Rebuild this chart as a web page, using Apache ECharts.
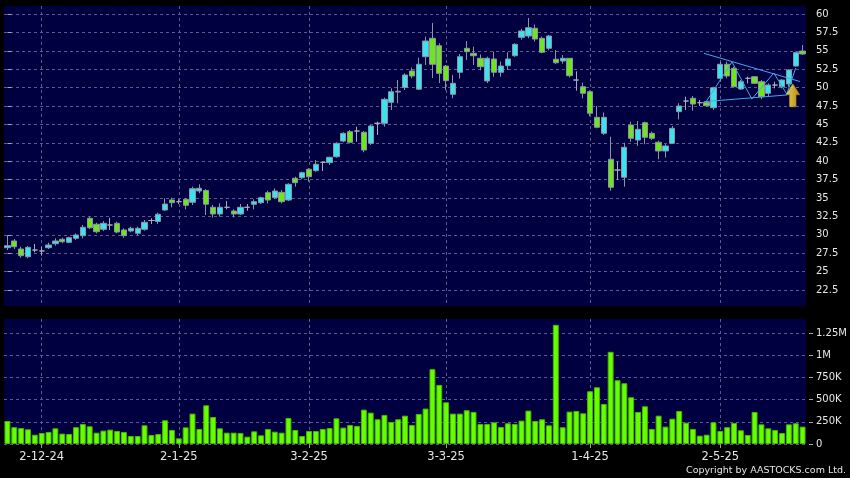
<!DOCTYPE html>
<html><head><meta charset="utf-8">
<script src="https://cdn.jsdelivr.net/npm/echarts@6/dist/echarts.min.js"></script>
<style>html,body{margin:0;padding:0;background:#000;}#c{width:850px;height:478px;}</style>
</head><body><div id="c"></div>
<script>
const dates = [
'2024-11-25','2024-11-26','2024-11-27','2024-11-28','2024-11-29',
'2024-12-02','2024-12-03','2024-12-04','2024-12-05','2024-12-06','2024-12-09','2024-12-10','2024-12-11','2024-12-12','2024-12-13',
'2024-12-16','2024-12-17','2024-12-18','2024-12-19','2024-12-20','2024-12-23','2024-12-24','2024-12-27','2024-12-30','2024-12-31',
'2025-01-02','2025-01-03','2025-01-06','2025-01-07','2025-01-08','2025-01-09','2025-01-10','2025-01-13','2025-01-14','2025-01-15',
'2025-01-16','2025-01-17','2025-01-20','2025-01-21','2025-01-22','2025-01-23','2025-01-24','2025-01-27','2025-01-28',
'2025-02-03','2025-02-04','2025-02-05','2025-02-06','2025-02-07','2025-02-10','2025-02-11','2025-02-12','2025-02-13','2025-02-14',
'2025-02-17','2025-02-18','2025-02-19','2025-02-20','2025-02-21','2025-02-24','2025-02-25','2025-02-26','2025-02-27','2025-02-28',
'2025-03-03','2025-03-04','2025-03-05','2025-03-06','2025-03-07','2025-03-10','2025-03-11','2025-03-12','2025-03-13','2025-03-14',
'2025-03-17','2025-03-18','2025-03-19','2025-03-20','2025-03-21','2025-03-24','2025-03-25','2025-03-26','2025-03-27','2025-03-28','2025-03-31',
'2025-04-01','2025-04-02','2025-04-03','2025-04-07','2025-04-08','2025-04-09','2025-04-10','2025-04-11','2025-04-14','2025-04-15',
'2025-04-16','2025-04-17','2025-04-22','2025-04-23','2025-04-24','2025-04-25','2025-04-28','2025-04-29','2025-04-30',
'2025-05-02','2025-05-06','2025-05-07','2025-05-08','2025-05-09','2025-05-12','2025-05-13','2025-05-14','2025-05-15','2025-05-16',
'2025-05-19','2025-05-20','2025-05-21'];

const opens = [28.25,29.16,28.07,27.02,27.93,27.80,28.25,28.79,29.39,28.98,29.52,29.88,32.24,31.43,30.75,31.33,31.56,30.65,30.52,30.20,
30.75,31.94,31.81,33.37,34.73,34.50,34.82,34.42,35.95,36.02,33.74,32.83,33.74,33.23,32.83,33.74,34.14,34.36,35.72,35.07,
35.77,34.73,37.68,37.76,38.90,38.71,39.85,39.80,40.61,42.74,44.01,44.10,43.93,42.43,45.15,45.15,48.00,49.50,50.01,52.26,
49.78,54.20,56.70,55.69,52.93,49.09,52.08,55.34,54.66,53.98,50.90,53.89,52.08,52.98,54.33,56.83,57.01,58.06,56.70,55.34,
53.85,53.61,53.98,51.03,50.12,49.44,45.96,43.79,40.26,38.80,37.81,44.92,42.88,45.23,43.79,42.57,41.39,42.43,46.73,48.18,
48.55,47.95,48.00,47.27,51.26,53.17,52.62,49.81,51.26,51.48,50.80,49.23,50.35,50.12,50.49,52.93,54.97];
const closes = [28.52,28.38,27.16,28.30,27.93,27.80,28.61,29.16,29.06,29.61,29.97,31.02,30.96,30.42,31.56,31.33,30.38,29.88,30.88,30.88,
31.70,31.94,32.79,34.18,34.36,34.50,34.01,36.26,36.32,34.16,32.83,33.74,33.74,32.83,33.74,33.74,34.50,35.04,34.73,35.95,
34.50,36.86,37.08,38.44,37.89,39.58,39.85,40.53,42.43,43.79,42.57,44.10,41.52,44.78,45.15,48.41,49.44,49.40,51.71,51.58,
53.17,56.33,53.17,51.94,50.94,50.58,54.20,54.88,54.33,52.84,53.98,52.08,52.93,53.89,55.88,57.69,58.14,56.60,54.80,57.01,
53.38,53.98,51.62,51.03,49.23,46.51,44.61,45.96,36.45,38.80,41.89,43.11,44.33,43.25,43.11,41.39,42.07,44.47,47.50,48.18,
47.77,47.95,47.54,49.99,53.17,51.58,50.12,50.80,51.26,50.58,48.76,50.35,50.35,51.03,52.39,54.74,54.57];
const lows = [27.93,28.07,26.89,26.81,27.62,27.16,28.07,28.52,28.85,28.85,29.29,29.52,30.79,30.20,30.52,30.65,30.20,29.61,30.34,29.97,
30.56,31.47,31.47,33.23,33.74,34.18,33.46,34.05,35.64,32.69,32.32,32.46,33.46,32.38,32.69,33.27,33.46,34.18,34.28,34.86,
34.28,34.59,36.54,37.54,37.21,38.57,38.67,39.48,40.48,42.57,42.43,42.65,41.21,42.20,43.56,44.69,46.96,47.87,49.67,51.26,
49.67,53.07,51.30,50.62,49.63,48.55,51.24,53.75,53.07,52.35,50.62,51.48,51.48,52.39,54.20,56.51,56.70,56.24,54.66,55.07,
53.21,53.25,51.37,49.58,48.55,46.10,44.47,43.56,35.99,37.45,36.54,42.65,42.07,42.30,42.88,40.26,40.48,42.34,45.69,46.96,
46.86,47.50,47.40,46.96,50.80,51.26,49.99,49.67,50.58,50.49,48.41,48.76,49.90,49.90,50.12,52.84,54.43];
const highs = [29.97,29.43,28.38,28.48,28.75,28.38,28.93,29.52,29.61,29.74,30.20,31.33,32.46,31.64,31.87,32.32,31.78,30.88,31.10,31.10,
32.01,32.24,33.00,34.96,35.04,34.82,34.96,36.54,36.86,36.22,34.05,34.28,34.59,33.46,34.18,34.18,34.82,35.18,35.99,36.32,
36.09,37.00,37.89,38.57,39.04,40.16,39.93,40.61,42.57,43.93,44.24,44.69,44.10,44.92,45.37,48.63,49.90,51.03,51.94,52.73,
54.06,56.92,58.78,56.02,53.07,51.71,54.57,56.33,55.56,54.52,54.20,54.88,53.52,54.80,56.02,58.00,59.46,58.57,56.92,57.15,
55.11,54.43,54.00,52.21,50.67,49.61,47.50,46.62,43.33,39.93,42.51,45.37,45.46,45.37,44.01,42.79,42.34,44.78,47.87,48.76,
48.86,48.32,48.22,50.12,53.52,53.52,52.84,51.03,51.48,51.58,51.03,50.58,50.80,51.13,52.49,54.88,55.79];
const volumes = [260,190,180,166,105,124,136,177,117,113,190,226,200,128,151,162,147,136,90,90,
211,102,113,268,158,64,188,343,170,437,305,177,128,128,124,83,143,98,170,139,
128,294,158,90,147,147,170,180,290,185,215,204,388,354,279,328,249,279,320,215,
339,400,845,667,471,343,343,381,362,226,226,245,192,234,226,264,377,260,279,211,
1346,189,366,373,347,596,641,452,1041,720,686,528,362,426,170,320,196,286,373,241,
170,94,105,245,147,190,238,155,102,362,222,177,158,124,222,234,196].map(v => v * 1000);

const tickIndex = [5, 25, 44, 64, 85, 104];
const tickLabels = ['2-12-24', '2-1-25', '3-2-25', '3-3-25', '1-4-25', '2-5-25'];
const priceTicks = [22.5, 25, 27.5, 30, 32.5, 35, 37.5, 40, 42.5, 45, 47.5, 50, 52.5, 55, 57.5, 60];
const volumeTicks = [0, 250000, 500000, 750000, 1000000, 1250000];
const volumeTickLabels = ['0', '250K', '500K', '750K', '1M', '1.25M'];
// annotation drawing (x in trading-day index, y in price)
const upperTrend = [[101.6, 54.66], [115.6, 50.83]];
const lowerTrend = [[101.6, 48.08], [113.7, 49.0]];
const zigzag = [[101.9, 48.04], [105.7, 53.48], [108.6, 48.45], [111.8, 51.98], [113.7, 49.13], [115.0, 52.66]];
const arrowPoint = [114.57, 48.95];

const chart = echarts.init(document.getElementById('c'), null, {renderer: 'canvas'});
const gridColor = '#5a5a8c';
const labelFont = 'DejaVu Sans';
const isTick = (i) => tickIndex.indexOf(i) >= 0;
const candleData = opens.map((o, i) => [o, closes[i], lows[i], highs[i]]);
const lineStyleTrend = {color: '#3fa8ee', width: 1};

chart.setOption({
  animation: false,
  backgroundColor: '#000000',
  grid: [
    {left: 4, top: 6, width: 802, height: 300, show: true, backgroundColor: '#000040', borderWidth: 0},
    {left: 4, top: 319, width: 802, height: 125, show: true, backgroundColor: '#000040', borderWidth: 0}
  ],
  xAxis: [
    {type: 'category', gridIndex: 0, data: dates, boundaryGap: true,
     axisLine: {show: false}, axisTick: {show: false}, axisLabel: {show: false},
     splitLine: {show: true, interval: (i) => isTick(i), alignWithLabel: true,
       lineStyle: {color: gridColor, type: [3, 3], width: 1}}},
    {type: 'category', gridIndex: 1, data: dates, boundaryGap: true,
     axisLine: {show: false},
     axisTick: {show: true, interval: (i) => isTick(i), alignWithLabel: true, length: 4,
       lineStyle: {color: '#999999'}},
     axisLabel: {show: true, interval: (i) => isTick(i), margin: 7, color: '#e6e6e6',
       fontFamily: labelFont, fontSize: 11.5,
       formatter: (v, i) => { const k = tickIndex.indexOf(i); return k >= 0 ? tickLabels[k] : ''; }},
     splitLine: {show: true, interval: (i) => isTick(i), alignWithLabel: true,
       lineStyle: {color: gridColor, type: [3, 3], width: 1}}},
    {type: 'value', gridIndex: 0, min: -0.5, max: 116.5, show: false}
  ],
  yAxis: [
    {type: 'value', gridIndex: 0, position: 'right', min: 20.326, max: 61.087, offset: 3,
     axisLine: {show: false},
     axisTick: {show: true, length: 4, customValues: priceTicks, lineStyle: {color: '#aaaaaa'}},
     axisLabel: {show: true, customValues: priceTicks, margin: 7, color: '#e6e6e6',
       fontFamily: labelFont, fontSize: 10},
     splitLine: {show: true, lineStyle: {color: gridColor, type: [3, 3], width: 1}}},
    {type: 'value', gridIndex: 1, position: 'right', min: 0, max: 1411500, offset: 3,
     axisLine: {show: false},
     axisTick: {show: true, length: 4, customValues: volumeTicks, lineStyle: {color: '#aaaaaa'}},
     axisLabel: {show: true, customValues: volumeTicks, margin: 7, color: '#e6e6e6',
       fontFamily: labelFont, fontSize: 10,
       formatter: (v) => { const k = volumeTicks.indexOf(v); return k >= 0 ? volumeTickLabels[k] : ''; }},
     splitLine: {show: true, lineStyle: {color: gridColor, type: [3, 3], width: 1}}}
  ],
  graphic: [
    {type: 'text', right: 4, top: 466, z: 100,
     style: {text: 'Copyright by AASTOCKS.com Ltd.', fill: '#e6e6e6', font: '9.5px "DejaVu Sans"'}}
  ],
  series: [
    {type: 'candlestick', xAxisIndex: 0, yAxisIndex: 0, data: candleData, barWidth: '84%',
     itemStyle: {color: '#3be3f0', color0: '#6ee51e', borderColor: '#8a96a2', borderColor0: '#8a96a2',
       borderColorDoji: '#a8aeb6', borderWidth: 1}},
    {type: 'bar', xAxisIndex: 1, yAxisIndex: 1, data: volumes, barWidth: '86%',
     itemStyle: {color: '#66ff00', borderColor: '#46b800', borderWidth: 1}},
    {type: 'line', xAxisIndex: 2, yAxisIndex: 0, data: upperTrend, symbol: 'none', lineStyle: lineStyleTrend, z: 5},
    {type: 'line', xAxisIndex: 2, yAxisIndex: 0, data: lowerTrend, symbol: 'none', lineStyle: lineStyleTrend, z: 5},
    {type: 'line', xAxisIndex: 2, yAxisIndex: 0, data: zigzag, symbol: 'none', lineStyle: lineStyleTrend, z: 5},
    {type: 'scatter', xAxisIndex: 2, yAxisIndex: 0, data: [arrowPoint], z: 10,
     symbol: 'path://M7 0 L14 11 L10.3 11 L10.3 23 L3.7 23 L3.7 11 L0 11 Z', symbolSize: [14, 23],
     itemStyle: {color: new echarts.graphic.LinearGradient(0, 0, 1, 0, [
       {offset: 0, color: '#fff6a8'}, {offset: 0.45, color: '#ffe033'}, {offset: 1, color: '#f0a000'}]),
       borderColor: '#c88400', borderWidth: 0.6}}
  ]
});
</script></body></html>
